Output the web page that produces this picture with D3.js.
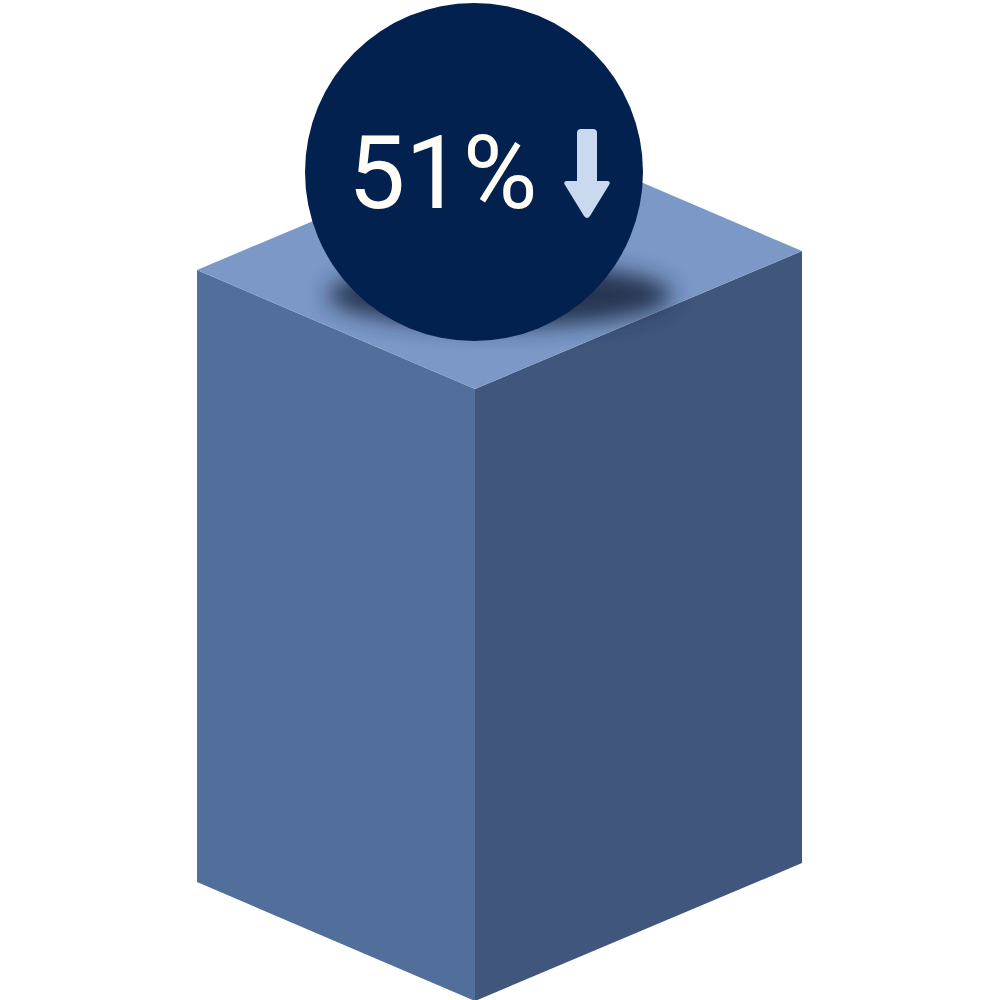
<!DOCTYPE html>
<html>
<head>
<meta charset="utf-8">
<script src="https://cdn.jsdelivr.net/npm/d3@7"></script>
<style>
  html, body { margin: 0; padding: 0; background: #fff; }
</style>
</head>
<body>
<div class="canvas"></div>
<script>
// data
const labels = ['51%']
const values = [51]
const trend = ['down']

const dims = { width: 1000, height: 1000 }

// isometric box: base point is the front-top vertex, value drives the height
const front = { x: 475, y: 389 }
const leftVec = { x: -278, y: -119 }
const rightVec = { x: 327, y: -138 }

const hScale = d3.scaleLinear()
    .domain([0, d3.max(values)])
    .range([0, 612])

const svg = d3.select('.canvas')
    .append('svg')
    .attr('width', dims.width)
    .attr('height', dims.height)

const defs = svg.append('defs')
defs.append('filter')
    .attr('id', 'blur')
    .attr('x', '-50%').attr('y', '-100%')
    .attr('width', '200%').attr('height', '300%')
  .append('feGaussianBlur')
    .attr('stdDeviation', 11)

const line = d3.line().x(d => d.x).y(d => d.y)

const box = svg.append('g')

values.forEach((v, i) => {
    const h = hScale(v)
    const F = front
    const L = { x: F.x + leftVec.x, y: F.y + leftVec.y }
    const R = { x: F.x + rightVec.x, y: F.y + rightVec.y }
    const B = { x: L.x + rightVec.x, y: L.y + rightVec.y }
    const down = p => ({ x: p.x, y: p.y + h })

    box.append('path')
        .attr('d', line([L, F, down(F), down(L)]) + 'Z')
        .attr('fill', '#526f9c')

    box.append('path')
        .attr('d', line([F, R, down(R), down(F)]) + 'Z')
        .attr('fill', '#40567d')

    box.append('path')
        .attr('d', line([L, B, R, F]) + 'Z')
        .attr('fill', '#7b98c7')

    // shadow under the badge
    box.append('ellipse')
        .attr('cx', 500)
        .attr('cy', 295)
        .attr('rx', 172)
        .attr('ry', 32)
        .attr('fill', '#1c2a45')
        .attr('opacity', 0.9)
        .attr('filter', 'url(#blur)')

    const badge = svg.append('g')
        .attr('transform', `translate(474,172)`)

    badge.append('circle')
        .attr('r', 169)
        .attr('fill', '#03214f')

    badge.append('text')
        .attr('x', -126)
        .attr('y', 36)
        .attr('font-family', 'Roboto, sans-serif')
        .attr('font-size', 102)
        .attr('fill', '#fffdf5')
        .text(labels[i])

    // arrow
    if (trend[i] === 'down') {
        badge.append('path')
            .attr('d', 'M103,-39 Q103,-43 107,-43 L119,-43 Q123,-43 123,-39 L123,9 L134,9 Q137,10 135,13 L116,44 Q113,48 110,44 L91,13 Q89,10 92,9 L103,9 Z')
            .attr('fill', '#c9daf0')
    }
})
</script>
</body>
</html>
